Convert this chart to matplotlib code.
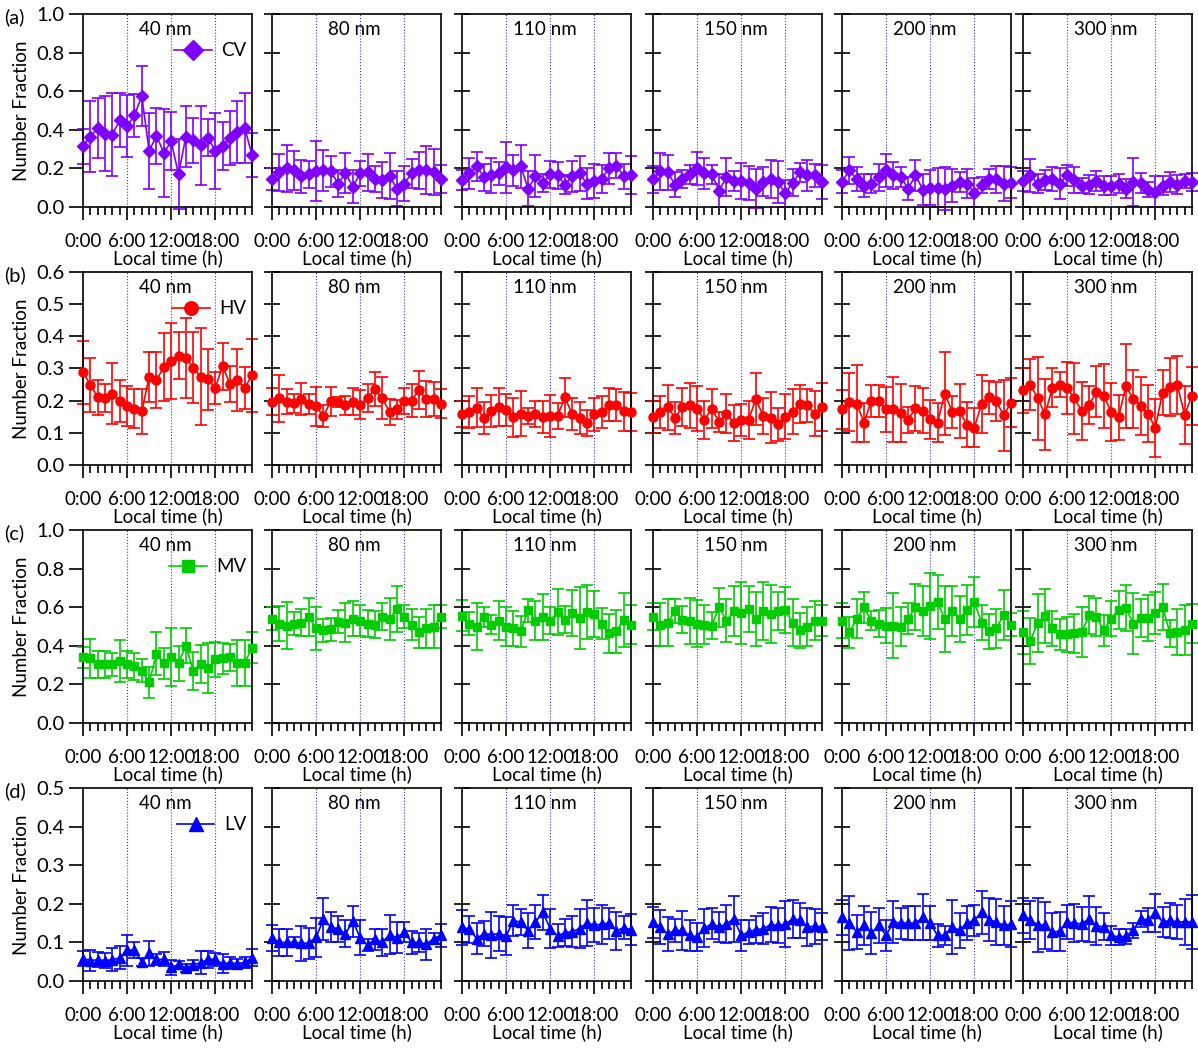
import numpy as np
import matplotlib.pyplot as plt
from matplotlib.ticker import MultipleLocator, FormatStrFormatter

plt.rcParams['font.family'] = ['Lato', 'DejaVu Sans']
plt.rcParams['font.size'] = 13.5

hours = np.arange(24)
sizes = ['40 nm', '80 nm', '110 nm', '150 nm', '200 nm', '300 nm']

# ---- CV (row a) ----
cv_40 = [0.315, 0.365, 0.41, 0.38, 0.375, 0.45, 0.42, 0.475, 0.575, 0.29, 0.37, 0.28,
         0.34, 0.17, 0.365, 0.345, 0.32, 0.36, 0.29, 0.315, 0.36, 0.39, 0.41, 0.27]
cv_40_err = [0.09, 0.185, 0.155, 0.195, 0.215, 0.14, 0.16, 0.11, 0.155, 0.195, 0.145, 0.23,
             0.15, 0.18, 0.16, 0.115, 0.205, 0.095, 0.195, 0.125, 0.14, 0.16, 0.18, 0.115]
cv_80 = [0.145, 0.18, 0.2, 0.19, 0.16, 0.17, 0.185, 0.19, 0.185, 0.12, 0.175, 0.105,
         0.175, 0.18, 0.145, 0.14, 0.16, 0.095, 0.12, 0.175, 0.19, 0.19, 0.18, 0.145]
cv_80_err = [0.055, 0.095, 0.12, 0.1, 0.085, 0.07, 0.155, 0.105, 0.08, 0.07, 0.105, 0.085,
             0.065, 0.095, 0.065, 0.095, 0.12, 0.09, 0.09, 0.075, 0.095, 0.125, 0.12, 0.075]
cv_110 = [0.14, 0.175, 0.21, 0.155, 0.165, 0.175, 0.205, 0.19, 0.21, 0.095, 0.16, 0.125,
          0.17, 0.165, 0.115, 0.16, 0.175, 0.12, 0.135, 0.145, 0.2, 0.215, 0.16, 0.165]
cv_110_err = [0.05, 0.08, 0.075, 0.07, 0.09, 0.06, 0.13, 0.08, 0.11, 0.09, 0.11, 0.045,
              0.07, 0.07, 0.05, 0.08, 0.09, 0.08, 0.09, 0.075, 0.08, 0.065, 0.065, 0.1]
cv_150 = [0.145, 0.185, 0.18, 0.115, 0.145, 0.17, 0.2, 0.175, 0.17, 0.085, 0.155, 0.135,
          0.135, 0.125, 0.095, 0.13, 0.145, 0.13, 0.07, 0.125, 0.18, 0.165, 0.165, 0.13]
cv_150_err = [0.07, 0.095, 0.09, 0.065, 0.045, 0.05, 0.085, 0.08, 0.05, 0.085, 0.1, 0.05,
              0.095, 0.09, 0.1, 0.075, 0.1, 0.11, 0.07, 0.07, 0.05, 0.08, 0.06, 0.09]
cv_200 = [0.13, 0.19, 0.145, 0.11, 0.12, 0.155, 0.19, 0.165, 0.155, 0.095, 0.165, 0.09,
          0.1, 0.1, 0.095, 0.11, 0.13, 0.12, 0.075, 0.115, 0.145, 0.145, 0.12, 0.125]
cv_200_err = [0.06, 0.07, 0.06, 0.06, 0.05, 0.07, 0.085, 0.07, 0.05, 0.06, 0.08, 0.08,
              0.09, 0.1, 0.11, 0.085, 0.05, 0.075, 0.075, 0.04, 0.05, 0.07, 0.09, 0.08]
cv_300 = [0.135, 0.165, 0.12, 0.14, 0.145, 0.12, 0.165, 0.14, 0.11, 0.115, 0.135, 0.11,
          0.11, 0.12, 0.095, 0.13, 0.125, 0.09, 0.08, 0.11, 0.13, 0.115, 0.135, 0.13]
cv_300_err = [0.05, 0.085, 0.05, 0.05, 0.06, 0.08, 0.055, 0.065, 0.04, 0.05, 0.05, 0.05,
              0.05, 0.05, 0.05, 0.125, 0.05, 0.04, 0.08, 0.05, 0.05, 0.05, 0.035, 0.045]

# ---- HV (row b) ----
hv_40 = [0.288, 0.25, 0.21, 0.208, 0.222, 0.2, 0.183, 0.175, 0.167, 0.274, 0.264, 0.305,
         0.323, 0.34, 0.332, 0.303, 0.275, 0.266, 0.24, 0.307, 0.252, 0.264, 0.239, 0.279]
hv_40_err = [0.097, 0.084, 0.055, 0.043, 0.096, 0.065, 0.063, 0.06, 0.07, 0.077, 0.087, 0.106,
             0.117, 0.073, 0.125, 0.11, 0.15, 0.095, 0.05, 0.073, 0.055, 0.097, 0.065, 0.113]
hv_80 = [0.197, 0.207, 0.197, 0.192, 0.205, 0.19, 0.182, 0.153, 0.198, 0.195, 0.186, 0.197,
         0.188, 0.208, 0.235, 0.208, 0.165, 0.173, 0.2, 0.2, 0.233, 0.205, 0.205, 0.19]
hv_80_err = [0.042, 0.073, 0.04, 0.03, 0.05, 0.03, 0.06, 0.035, 0.045, 0.015, 0.03, 0.042,
             0.045, 0.043, 0.053, 0.065, 0.04, 0.03, 0.04, 0.052, 0.06, 0.055, 0.053, 0.045]
hv_110 = [0.159, 0.164, 0.178, 0.145, 0.169, 0.18, 0.17, 0.148, 0.16, 0.152, 0.158, 0.15,
          0.153, 0.153, 0.21, 0.158, 0.145, 0.13, 0.157, 0.165, 0.188, 0.186, 0.167, 0.165]
hv_110_err = [0.04, 0.05, 0.06, 0.05, 0.05, 0.06, 0.05, 0.06, 0.07, 0.025, 0.04, 0.05,
              0.065, 0.04, 0.06, 0.05, 0.05, 0.04, 0.05, 0.05, 0.05, 0.05, 0.06, 0.06]
hv_150 = [0.15, 0.166, 0.18, 0.147, 0.18, 0.186, 0.175, 0.14, 0.175, 0.134, 0.16, 0.13,
          0.14, 0.14, 0.205, 0.152, 0.147, 0.126, 0.15, 0.165, 0.19, 0.185, 0.16, 0.18]
hv_150_err = [0.05, 0.05, 0.07, 0.05, 0.06, 0.07, 0.07, 0.06, 0.06, 0.03, 0.06, 0.055,
              0.05, 0.06, 0.08, 0.055, 0.08, 0.05, 0.07, 0.07, 0.06, 0.05, 0.07, 0.075]
hv_200 = [0.173, 0.196, 0.19, 0.132, 0.2, 0.2, 0.173, 0.173, 0.162, 0.141, 0.177, 0.168,
          0.142, 0.132, 0.222, 0.165, 0.168, 0.125, 0.116, 0.19, 0.21, 0.198, 0.155, 0.194]
hv_200_err = [0.06, 0.09, 0.12, 0.06, 0.05, 0.05, 0.07, 0.1, 0.09, 0.04, 0.07, 0.07,
              0.06, 0.06, 0.13, 0.05, 0.085, 0.07, 0.06, 0.09, 0.05, 0.06, 0.11, 0.075]
hv_300 = [0.232, 0.25, 0.207, 0.158, 0.24, 0.25, 0.24, 0.207, 0.168, 0.187, 0.228, 0.215,
          0.166, 0.148, 0.245, 0.205, 0.184, 0.16, 0.116, 0.225, 0.243, 0.248, 0.156, 0.215]
hv_300_err = [0.07, 0.08, 0.13, 0.11, 0.06, 0.04, 0.08, 0.11, 0.09, 0.06, 0.08, 0.1,
              0.09, 0.07, 0.13, 0.09, 0.09, 0.09, 0.09, 0.07, 0.09, 0.09, 0.09, 0.09]

# ---- MV (row c) ----
mv_40 = [0.34, 0.335, 0.305, 0.305, 0.305, 0.32, 0.305, 0.295, 0.27, 0.21, 0.36, 0.31,
         0.34, 0.31, 0.4, 0.27, 0.305, 0.285, 0.33, 0.335, 0.34, 0.31, 0.31, 0.39]
mv_40_err = [0.055, 0.1, 0.07, 0.07, 0.06, 0.11, 0.07, 0.07, 0.06, 0.08, 0.11, 0.08,
             0.15, 0.09, 0.09, 0.1, 0.1, 0.13, 0.09, 0.08, 0.07, 0.12, 0.12, 0.08]
mv_80 = [0.54, 0.515, 0.505, 0.515, 0.52, 0.55, 0.49, 0.48, 0.485, 0.525, 0.52, 0.54,
         0.53, 0.515, 0.51, 0.55, 0.54, 0.59, 0.55, 0.51, 0.47, 0.49, 0.5, 0.55]
mv_80_err = [0.06, 0.09, 0.12, 0.06, 0.07, 0.1, 0.11, 0.06, 0.06, 0.06, 0.1, 0.09,
             0.08, 0.07, 0.07, 0.07, 0.11, 0.12, 0.06, 0.08, 0.08, 0.1, 0.11, 0.06]
mv_110 = [0.555, 0.515, 0.5, 0.55, 0.51, 0.53, 0.5, 0.49, 0.475, 0.585, 0.53, 0.55,
          0.53, 0.575, 0.535, 0.57, 0.545, 0.575, 0.565, 0.515, 0.465, 0.475, 0.535, 0.51]
mv_110_err = [0.08, 0.06, 0.12, 0.05, 0.05, 0.1, 0.1, 0.09, 0.08, 0.06, 0.1, 0.12,
              0.07, 0.12, 0.07, 0.12, 0.16, 0.14, 0.12, 0.08, 0.1, 0.11, 0.14, 0.1]
mv_150 = [0.55, 0.51, 0.52, 0.58, 0.535, 0.53, 0.515, 0.51, 0.505, 0.6, 0.53, 0.58,
          0.57, 0.59, 0.54, 0.58, 0.565, 0.58, 0.585, 0.52, 0.48, 0.5, 0.53, 0.53]
mv_150_err = [0.07, 0.11, 0.12, 0.06, 0.07, 0.12, 0.12, 0.1, 0.07, 0.1, 0.11, 0.13,
              0.16, 0.12, 0.14, 0.15, 0.15, 0.1, 0.12, 0.12, 0.09, 0.1, 0.1, 0.08]
mv_200 = [0.53, 0.47, 0.54, 0.6, 0.53, 0.515, 0.505, 0.505, 0.5, 0.54, 0.6, 0.58,
          0.605, 0.625, 0.54, 0.58, 0.54, 0.585, 0.625, 0.52, 0.475, 0.49, 0.56, 0.51]
mv_200_err = [0.09, 0.08, 0.1, 0.08, 0.05, 0.07, 0.09, 0.17, 0.1, 0.08, 0.12, 0.13,
              0.17, 0.14, 0.17, 0.13, 0.12, 0.13, 0.13, 0.09, 0.09, 0.1, 0.13, 0.06]
mv_300 = [0.47, 0.425, 0.52, 0.555, 0.49, 0.46, 0.46, 0.465, 0.47, 0.56, 0.55, 0.48,
          0.54, 0.585, 0.595, 0.515, 0.545, 0.545, 0.57, 0.6, 0.465, 0.47, 0.48, 0.515]
mv_300_err = [0.11, 0.12, 0.15, 0.14, 0.09, 0.08, 0.09, 0.1, 0.13, 0.1, 0.1, 0.08,
              0.09, 0.1, 0.12, 0.16, 0.1, 0.12, 0.11, 0.12, 0.07, 0.12, 0.13, 0.1]

# ---- LV (row d) ----
lv_40 = [0.058, 0.053, 0.055, 0.053, 0.055, 0.06, 0.08, 0.08, 0.05, 0.072, 0.056, 0.056,
         0.035, 0.043, 0.033, 0.042, 0.047, 0.056, 0.056, 0.045, 0.047, 0.045, 0.048, 0.06]
lv_40_err = [0.02, 0.028, 0.02, 0.02, 0.03, 0.03, 0.04, 0.02, 0.01, 0.032, 0.015, 0.018,
             0.02, 0.01, 0.01, 0.012, 0.03, 0.022, 0.017, 0.025, 0.015, 0.012, 0.015, 0.022]
lv_80 = [0.112, 0.1, 0.1, 0.1, 0.098, 0.098, 0.113, 0.16, 0.14, 0.135, 0.122, 0.155,
         0.112, 0.093, 0.108, 0.1, 0.12, 0.112, 0.127, 0.1, 0.1, 0.095, 0.11, 0.118]
lv_80_err = [0.033, 0.035, 0.035, 0.013, 0.045, 0.04, 0.05, 0.055, 0.04, 0.033, 0.035, 0.04,
             0.045, 0.015, 0.027, 0.035, 0.05, 0.04, 0.027, 0.03, 0.025, 0.04, 0.015, 0.03]
lv_110 = [0.139, 0.134, 0.11, 0.123, 0.12, 0.123, 0.117, 0.156, 0.153, 0.13, 0.153, 0.178,
          0.136, 0.117, 0.125, 0.128, 0.136, 0.15, 0.145, 0.147, 0.15, 0.13, 0.138, 0.133]
lv_110_err = [0.045, 0.035, 0.04, 0.032, 0.06, 0.045, 0.05, 0.04, 0.033, 0.045, 0.045, 0.045,
              0.05, 0.03, 0.035, 0.04, 0.05, 0.06, 0.045, 0.05, 0.04, 0.05, 0.03, 0.04]
lv_150 = [0.152, 0.14, 0.122, 0.131, 0.131, 0.118, 0.114, 0.137, 0.148, 0.14, 0.148, 0.161,
          0.118, 0.127, 0.133, 0.135, 0.146, 0.144, 0.147, 0.161, 0.157, 0.14, 0.142, 0.14]
lv_150_err = [0.04, 0.045, 0.045, 0.03, 0.05, 0.04, 0.035, 0.05, 0.04, 0.04, 0.05, 0.06,
              0.04, 0.032, 0.035, 0.04, 0.045, 0.045, 0.06, 0.05, 0.045, 0.05, 0.045, 0.035]
lv_200 = [0.165, 0.15, 0.127, 0.144, 0.124, 0.144, 0.118, 0.153, 0.15, 0.15, 0.15, 0.165,
          0.15, 0.118, 0.118, 0.14, 0.131, 0.15, 0.157, 0.178, 0.159, 0.153, 0.144, 0.147]
lv_200_err = [0.045, 0.07, 0.045, 0.05, 0.055, 0.045, 0.04, 0.055, 0.04, 0.045, 0.045, 0.06,
              0.045, 0.03, 0.025, 0.07, 0.045, 0.045, 0.04, 0.055, 0.055, 0.06, 0.05, 0.06]
lv_300 = [0.17, 0.158, 0.146, 0.144, 0.127, 0.129, 0.153, 0.15, 0.148, 0.161, 0.143, 0.14,
          0.118, 0.114, 0.116, 0.131, 0.161, 0.158, 0.176, 0.153, 0.157, 0.153, 0.153, 0.153]
lv_300_err = [0.045, 0.05, 0.07, 0.06, 0.05, 0.05, 0.045, 0.05, 0.045, 0.06, 0.05, 0.035,
              0.025, 0.02, 0.02, 0.02, 0.02, 0.03, 0.05, 0.04, 0.045, 0.045, 0.06, 0.07]

rows = [
    ('(a)', 'CV', '#7F00FF', 'D', 6.5, 1.0, 0.2,
     [cv_40, cv_80, cv_110, cv_150, cv_200, cv_300],
     [cv_40_err, cv_80_err, cv_110_err, cv_150_err, cv_200_err, cv_300_err]),
    ('(b)', 'HV', '#FF0000', 'o', 6.5, 0.6, 0.1,
     [hv_40, hv_80, hv_110, hv_150, hv_200, hv_300],
     [hv_40_err, hv_80_err, hv_110_err, hv_150_err, hv_200_err, hv_300_err]),
    ('(c)', 'MV', '#00CC00', 's', 6, 1.0, 0.2,
     [mv_40, mv_80, mv_110, mv_150, mv_200, mv_300],
     [mv_40_err, mv_80_err, mv_110_err, mv_150_err, mv_200_err, mv_300_err]),
    ('(d)', 'LV', '#0000FF', '^', 7, 0.5, 0.1,
     [lv_40, lv_80, lv_110, lv_150, lv_200, lv_300],
     [lv_40_err, lv_80_err, lv_110_err, lv_150_err, lv_200_err, lv_300_err]),
]

W, H = 1198, 1050
fig = plt.figure(figsize=(W / 100, H / 100), dpi=100)

col_left = [83, 272, 462, 653, 842, 1023]
row_top = [14, 272, 530, 788]
pw, ph = 169, 193

for r, (tag, name, color, marker, ms, ymax, ystep, means, errs) in enumerate(rows):
    for c in range(6):
        ax = fig.add_axes([col_left[c] / W, 1 - (row_top[r] + ph) / H, pw / W, ph / H])
        for h in [6, 12, 18]:
            ax.axvline(h, color='#3333FF', ls=':', lw=0.8, zorder=0)
        ax.errorbar(hours, means[c], yerr=errs[c], fmt='none', ecolor=color,
                    elinewidth=1.2, capsize=4, capthick=1.2, zorder=2, clip_on=False)
        ax.plot(hours, means[c], color=color, marker=marker, ms=ms, lw=1.2,
                label=name, zorder=3, clip_on=False)
        ax.set_xlim(0, 23)
        ax.set_ylim(0, ymax)
        ax.xaxis.set_minor_locator(MultipleLocator(1))
        ax.set_xticks([0, 6, 12, 18])
        ax.set_xticklabels(['0:00', '6:00', '12:00', '18:00'])
        ax.tick_params(axis='x', which='major', direction='out', length=9.5, width=1.2,
                       pad=9, labelsize=13.5)
        ax.tick_params(axis='x', which='minor', direction='out', length=5.5, width=1.2)
        ax.yaxis.set_major_locator(MultipleLocator(ystep))
        ax.yaxis.set_major_formatter(FormatStrFormatter('%.1f'))
        if c == 0:
            ax.tick_params(axis='y', direction='out', length=10, width=1.2, pad=3,
                           labelsize=14.5)
            ax.set_ylabel('Number Fraction', labelpad=5)
            ax.legend(loc='center right', bbox_to_anchor=(1.01, 0.81), frameon=False,
                      handlelength=2.0, handletextpad=0.5, markerscale=1.5,
                      borderaxespad=0)
        else:
            ax.tick_params(axis='y', direction='inout', length=12, width=1.2, labelleft=False)
        for s in ax.spines.values():
            s.set_linewidth(1.2)
        ax.set_xlabel('Local time (h)', labelpad=0)
        ax.text(0.49, 0.92, sizes[c], transform=ax.transAxes, ha='center', va='center')
    fig.text(4 / W, 1 - (row_top[r] + 3) / H, tag, ha='left', va='center', fontsize=14.5)

fig.savefig('out.png', dpi=100)
